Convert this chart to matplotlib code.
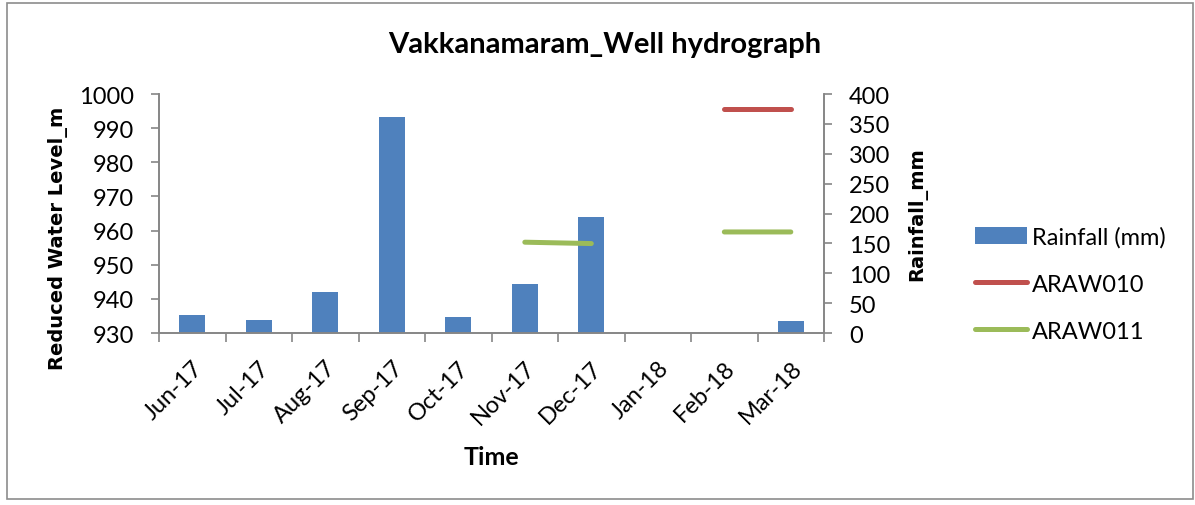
import matplotlib
matplotlib.use("Agg")
import matplotlib.pyplot as plt
import numpy as np
from matplotlib.patches import Patch
from matplotlib.lines import Line2D

months = ["Jun-17", "Jul-17", "Aug-17", "Sep-17", "Oct-17", "Nov-17",
          "Dec-17", "Jan-18", "Feb-18", "Mar-18"]
rainfall = [29.6, 21.2, 68.2, 361.0, 26.8, 81.6, 195.0, 0, 0, 19.6]
araw010 = [np.nan, np.nan, np.nan, np.nan, np.nan, np.nan, np.nan, np.nan, 995.7, 995.7]
araw011 = [np.nan, np.nan, np.nan, np.nan, np.nan, 956.6, 956.2, np.nan, 959.6, 959.6]

plt.rcParams['font.family'] = ['Lato', 'DejaVu Sans']
gray = '#868686'

fig = plt.figure(figsize=(11.95, 5.06), dpi=100)
fig.patches.append(plt.Rectangle((0.006, 0.012), 0.992, 0.98, transform=fig.transFigure,
                                 fill=False, edgecolor='#8c8c8c', linewidth=1.2))

ax = fig.add_axes([0.1331, 0.3399, 0.5565, 0.4723])
ax2 = ax.twinx()

x = np.arange(len(months))
ax2.bar(x, rainfall, width=0.39, color='#4f81bd', zorder=1)
ax.set_zorder(ax2.get_zorder() + 1)
ax.patch.set_visible(False)
ax.plot(x, araw010, color='#c0504d', linewidth=3.6, solid_capstyle='round')
ax.plot(x, araw011, color='#9bbb59', linewidth=3.6, solid_capstyle='round')

ax.set_xlim(-0.5, len(months) - 0.5)
ax.set_ylim(930, 1000)
ax.set_yticks(np.arange(930, 1001, 10))
ax2.set_ylim(0, 400)
ax2.set_yticks(np.arange(0, 401, 50))

ax.set_xticks(x)
ax.set_xticklabels(months, rotation=45, ha='right', va='top', rotation_mode='anchor', fontsize=17)
ax.set_xticks(np.arange(-0.5, len(months), 1), minor=True)
ax.tick_params(axis='x', which='major', length=0, pad=17)
ax.tick_params(axis='x', which='minor', length=6.5, color=gray, width=1.2)
ax.tick_params(axis='y', length=6, color=gray, width=1.2, labelsize=17, pad=12)
ax2.tick_params(axis='y', length=6, color=gray, width=1.2, labelsize=17, pad=12)

for a in (ax, ax2):
    a.spines['top'].set_visible(False)
    for s in ('left', 'right', 'bottom'):
        a.spines[s].set_color(gray)
        a.spines[s].set_linewidth(1.2)

ax.set_ylabel("Reduced Water Level_m", fontsize=14, fontweight='bold',
              family='DejaVu Sans')
ax.yaxis.set_label_coords(-0.137, 0.40)
ax2.set_ylabel("Rainfall_mm", fontsize=14, fontweight='bold', family='DejaVu Sans')
ax2.yaxis.set_label_coords(1.125, 0.5)
ax.set_xlabel("Time", fontsize=18, fontweight='bold')
ax.xaxis.set_label_coords(0.50, -0.47)
fig.suptitle("Vakkanamaram_Well hydrograph", x=0.506, y=0.911, va='center',
             fontsize=21, fontweight='bold')

handles = [Patch(facecolor='#4f81bd', edgecolor='none'),
           Line2D([], [], color='#c0504d', linewidth=3.6, solid_capstyle='round'),
           Line2D([], [], color='#9bbb59', linewidth=3.6, solid_capstyle='round')]
fig.legend(handles, ["Rainfall (mm)", "ARAW010", "ARAW011"], loc='center left',
           bbox_to_anchor=(0.816, 0.437), frameon=False, fontsize=17,
           borderpad=0, borderaxespad=0,
           handlelength=2.2, handleheight=0.7, handletextpad=0.2, labelspacing=1.1)

fig.savefig("out.png", dpi=100)
